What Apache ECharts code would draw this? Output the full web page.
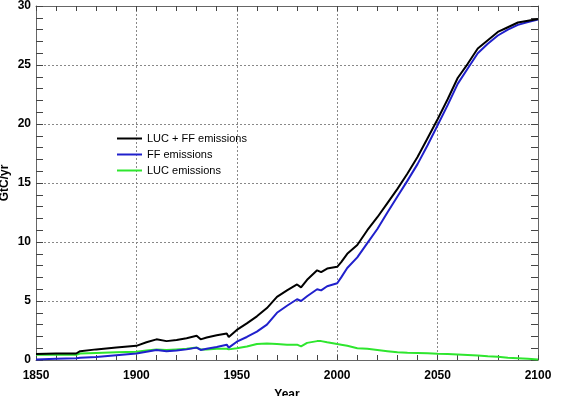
<!DOCTYPE html>
<html>
<head>
<meta charset="utf-8">
<script src="https://cdn.jsdelivr.net/npm/echarts@6/dist/echarts.min.js"></script>
<style>
  html, body { margin: 0; padding: 0; background: #fff; }
  #chart { width: 562px; height: 396px; }
</style>
</head>
<body>
<div id="chart"></div>
<script>
// years
var years = [1850, 1860, 1870, 1872, 1880, 1890, 1900, 1905, 1910, 1915, 1920, 1925, 1930, 1932, 1935,
  1940, 1945, 1946, 1950, 1955, 1960, 1965, 1970, 1975, 1980, 1982, 1985, 1990, 1992, 1995, 2000,
  2002, 2005, 2010, 2015, 2020, 2025, 2030, 2035, 2040, 2045, 2050, 2055, 2060, 2065, 2070, 2075,
  2080, 2085, 2090, 2095, 2100];
// GtC/yr
var lucFF = [0.5, 0.55, 0.55, 0.75, 0.9, 1.05, 1.2, 1.5, 1.75, 1.6, 1.7, 1.85, 2.05, 1.75, 1.9,
  2.1, 2.25, 1.95, 2.55, 3.1, 3.7, 4.4, 5.35, 5.9, 6.4, 6.15, 6.8, 7.6, 7.45, 7.75, 7.9,
  8.3, 9.0, 9.75, 11.0, 12.1, 13.3, 14.5, 15.8, 17.2, 18.8, 20.4, 22.1, 23.9, 25.1, 26.4, 27.1,
  27.8, 28.2, 28.6, 28.75, 28.9];
var ff = [0.05, 0.1, 0.15, 0.2, 0.25, 0.4, 0.55, 0.7, 0.85, 0.75, 0.8, 0.9, 1.05, 0.85, 0.95,
  1.1, 1.3, 1.05, 1.55, 1.95, 2.4, 3.0, 4.0, 4.6, 5.15, 5.0, 5.4, 6.0, 5.9, 6.25, 6.5,
  7.0, 7.8, 8.7, 9.9, 11.1, 12.5, 13.85, 15.2, 16.6, 18.2, 19.9, 21.6, 23.4, 24.7, 26.0, 26.8,
  27.5, 28.0, 28.4, 28.65, 28.85];
var luc = [0.45, 0.45, 0.45, 0.55, 0.6, 0.65, 0.7, 0.8, 0.9, 0.85, 0.9, 0.95, 1.05, 0.9, 0.9,
  0.95, 0.95, 0.9, 1.0, 1.15, 1.35, 1.4, 1.35, 1.3, 1.3, 1.15, 1.45, 1.6, 1.6, 1.5, 1.35,
  1.3, 1.2, 1.0, 0.95, 0.85, 0.75, 0.65, 0.62, 0.6, 0.57, 0.53, 0.5, 0.46, 0.42, 0.38, 0.32,
  0.27, 0.2, 0.15, 0.1, 0.05];

var xTicks = [1850, 1900, 1950, 2000, 2050, 2100];
var yTicks = [0, 5, 10, 15, 20, 25, 30];

function pairs(vals) {
  return years.map((y, i) => [y, vals[i]]);
}

var font = 'Liberation Sans, Arial, Helvetica, sans-serif';
var frame = '#444';

var myChart = echarts.init(document.getElementById('chart'));

function xAx(pos, labels) {
  return {
    type: 'value', position: pos,
    min: xTicks[0], max: xTicks[xTicks.length - 1], interval: 50,
    axisLine: { show: true, onZero: false, lineStyle: { color: '#666', width: 1 } },
    axisTick: { show: true, inside: true, length: 5, lineStyle: { color: frame } },
    minorTick: { show: true, splitNumber: 5, length: 5, lineStyle: { color: frame } },
    axisLabel: {
      show: labels, color: '#000', fontSize: 12, fontWeight: 'bold', fontFamily: font, margin: 10,
      formatter: v => String(v)
    },
    splitLine: { show: labels, lineStyle: { color: '#888', type: [2, 2], width: 1 } },
    name: labels ? 'Year' : '', nameLocation: 'middle', nameGap: 29, nameMoveOverlap: false,
    nameTextStyle: { color: '#000', fontSize: 12, fontWeight: 'bold', fontFamily: font }
  };
}
function yAx(pos, labels) {
  return {
    type: 'value', position: pos,
    min: yTicks[0], max: yTicks[yTicks.length - 1], interval: 5,
    axisLine: { show: true, onZero: false, lineStyle: { color: '#666', width: 1 } },
    axisTick: { show: true, inside: true, length: 7, lineStyle: { color: frame } },
    minorTick: { show: true, splitNumber: 5, length: 7, lineStyle: { color: frame } },
    axisLabel: { show: labels, color: '#000', fontSize: 12, fontWeight: 'bold', fontFamily: font, margin: 5 },
    splitLine: { show: labels, lineStyle: { color: '#888', type: [2, 2], width: 1 } },
    name: labels ? 'GtC/yr' : '', nameLocation: 'middle', nameGap: 25, nameMoveOverlap: false,
    nameTextStyle: { color: '#000', fontSize: 12, fontWeight: 'bold', fontFamily: font }
  };
}

var option = {
  animation: false,
  backgroundColor: '#fff',
  grid: { left: 36, right: 24, top: 6, bottom: 36, containLabel: false, outerBoundsMode: 'none' },
  legend: {
    orient: 'vertical', left: 112, top: 128,
    icon: 'rect', itemWidth: 25, itemHeight: 2, itemGap: 5,
    textStyle: { color: '#000', fontSize: 11, fontFamily: font },
    data: ['LUC + FF emissions', 'FF emissions', 'LUC emissions']
  },
  xAxis: [xAx('bottom', true), xAx('top', false)],
  yAxis: [yAx('left', true), yAx('right', false)],
  series: [
    {
      name: 'LUC emissions', type: 'line', showSymbol: false, symbol: 'none',
      color: '#2ee62e', lineStyle: { width: 2, color: '#2ee62e' }, data: pairs(luc)
    },
    {
      name: 'FF emissions', type: 'line', showSymbol: false, symbol: 'none',
      color: '#2020cc', lineStyle: { width: 2, color: '#2020cc' }, data: pairs(ff)
    },
    {
      name: 'LUC + FF emissions', type: 'line', showSymbol: false, symbol: 'none',
      color: '#000', lineStyle: { width: 2, color: '#000' }, data: pairs(lucFF)
    }
  ]
};
myChart.setOption(option);
</script>
</body>
</html>
